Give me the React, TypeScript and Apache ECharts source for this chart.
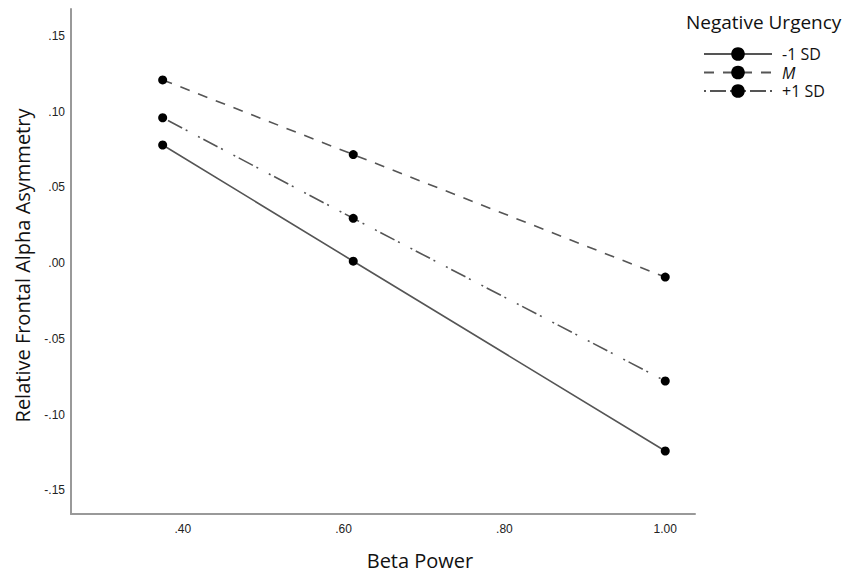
import React, { useEffect, useRef } from "react";
import * as echarts from "echarts";

const xValues = [0.375, 0.612, 1.0];
const seriesNames = ["-1 SD", "M", "+1 SD"];
const minus1SD = [0.078, 0.0013, -0.124];
const meanVals = [0.121, 0.0717, -0.0092];
const plus1SD = [0.096, 0.0296, -0.0778];
const xTicks = [0.4, 0.6, 0.8, 1.0];
const yTicks = [-0.15, -0.1, -0.05, 0, 0.05, 0.1, 0.15];

const fmt = (v: number) => {
  const s = Math.abs(v).toFixed(2);
  const t = s.startsWith("0") ? s.slice(1) : s;
  return (v < -1e-9 ? "-" : "") + t;
};

export default function App() {
  const ref = useRef<HTMLDivElement>(null);
  useEffect(() => {
    document.body.style.margin = "0";
    const chart = echarts.init(ref.current!, null, { renderer: "svg" });
    const lineColor = "#555";
    const mk = (name: string, vals: number[], type: any) => ({
      name,
      type: "line",
      data: xValues.map((x, i) => [x, vals[i]]),
      symbol: "circle",
      symbolSize: 9,
      itemStyle: { color: "#000" },
      lineStyle: { color: lineColor, width: 1.6, type },
      emphasis: { disabled: true },
    });
    chart.setOption({
      animation: false,
      backgroundColor: "#fff",
      title: {
        text: "Negative Urgency",
        left: 681,
        top: 7,
        textStyle: { fontFamily: "Open Sans", fontSize: 19, fontWeight: "normal", color: "#111" },
      },
      legend: {
        orient: "vertical",
        left: 698,
        top: 41,
        itemWidth: 68,
        itemHeight: 17,
        itemGap: 2.5,
        data: seriesNames,
        formatter: (n: string) => (n === "M" ? "{i|M}" : n),
        textStyle: {
          fontFamily: "Open Sans",
          fontSize: 16,
          lineHeight: 14,
          color: "#111",
          padding: [0, 0, 0, 5],
          rich: { i: { fontStyle: "italic", fontFamily: "Open Sans", fontSize: 16, lineHeight: 14, color: "#111" } },
        },
      },
      grid: { left: 71, right: 150, top: 9, bottom: 59 },
      xAxis: {
        type: "value",
        min: 0.261,
        max: 1.037,
        name: "Beta Power",
        nameLocation: "middle",
        nameGap: 36,
        nameTextStyle: { fontFamily: "Open Sans", fontSize: 20, color: "#111", padding: [0, 0, 0, 74] },
        axisLine: { show: true, onZero: false, lineStyle: { color: "#999", width: 2 } },
        axisTick: { show: false },
        splitLine: { show: false },
        axisLabel: {
          customValues: xTicks,
          formatter: (v: number) => fmt(v),
          margin: 9,
          fontFamily: "Liberation Sans",
          fontSize: 12,
          color: "#222",
        },
      },
      yAxis: {
        type: "value",
        min: -0.1656,
        max: 0.1678,
        name: "Relative Frontal Alpha Asymmetry",
        nameLocation: "middle",
        nameGap: 39,
        nameTextStyle: { fontFamily: "Open Sans", fontSize: 20, color: "#111", padding: [0, 0, 0, -8] },
        axisLine: { show: true, onZero: false, lineStyle: { color: "#999", width: 2 } },
        axisTick: { show: false },
        splitLine: { show: false },
        axisLabel: {
          customValues: yTicks,
          formatter: (v: number) => fmt(v),
          margin: 6,
          fontFamily: "Liberation Sans",
          fontSize: 12,
          color: "#222",
        },
      },
      series: [
        mk(seriesNames[0], minus1SD, "solid"),
        mk(seriesNames[1], meanVals, [10, 9]),
        mk(seriesNames[2], plus1SD, [2, 4, 16, 4, 2, 12]),
      ],
    });
    return () => chart.dispose();
  }, []);
  return <div ref={ref} style={{ width: 845, height: 575 }} />;
}
